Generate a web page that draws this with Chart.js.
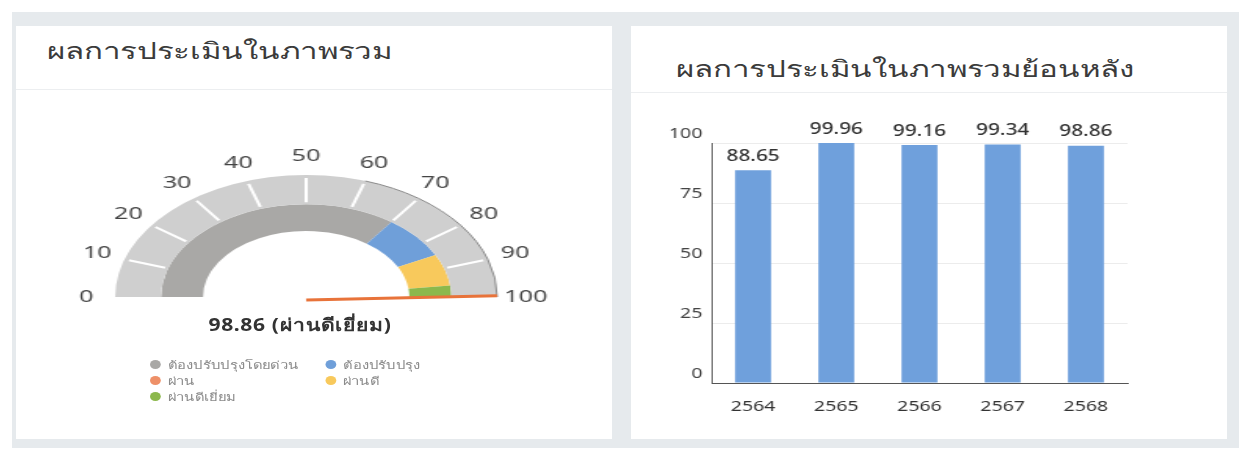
<!DOCTYPE html>
<html lang="th">
<head>
    <meta charset="UTF-8">
    <title>ผลการประเมินในภาพรวม</title>
    <style>
        body { margin: 0; width: 1239px; height: 456px; background: #fff; position: relative; overflow: hidden; font-family: "Noto Sans", sans-serif; }
        .backdrop { position: absolute; left: 12px; top: 12px; width: 1227px; height: 436px; background: #e6eaed; }
        .card { position: absolute; top: 26px; height: 413px; background: #fff; }
        .card.left { left: 16px; width: 596px; }
        .card.right { left: 631px; width: 596px; }
        .card h2 { position: absolute; margin: 0; font-weight: 400; font-size: 23px; line-height: 30px; color: #3b3b3b; white-space: nowrap; transform-origin: 0 50%; transform: scaleX(1.36); }
        .card .sep { position: absolute; left: 0; right: 0; height: 1px; background: #eceef0; }
        .stretch { position: absolute; transform-origin: 0 0; }
        #gauge-wrap { left: 40px; top: 137px; transform: scaleX(1.5656); }
        #bar-wrap { left: 640px; top: 112px; transform: scaleX(1.3); }
        .status { position: absolute; left: 180px; width: 240px; top: 311px; text-align: center; font-weight: 700; font-size: 17px; color: #333; letter-spacing: 0.5px; transform: scaleX(1.24); }
        .legend { position: absolute; left: 150px; top: 357px; display: grid; grid-template-columns: 130px 100px; row-gap: 1px; font-size: 11px; color: #8a8a8a; transform-origin: 0 0; transform: scaleX(1.35); }
        .legend span { display: flex; align-items: center; height: 15px; }
        .legend i { width: 8px; height: 9px; border-radius: 50%; margin-right: 5px; display: inline-block; }
    </style>
</head>
<body>
    <div class="backdrop"></div>
    <div class="card left">
        <h2 style="left:31px; top:9px;">ผลการประเมินในภาพรวม</h2>
        <div class="sep" style="top:63px;"></div>
    </div>
    <div class="card right">
        <h2 style="left:45px; top:27px;">ผลการประเมินในภาพรวมย้อนหลัง</h2>
        <div class="sep" style="top:66px;"></div>
    </div>

    <div class="stretch" id="gauge-wrap">
        <canvas id="gauge-chart" width="340" height="190"></canvas>
    </div>
    <div class="status" id="gauge-status"></div>
    <div class="legend" id="gauge-legend"></div>

    <div class="stretch" id="bar-wrap">
        <canvas id="history-chart" width="455" height="318"></canvas>
    </div>

    <script src="https://cdn.jsdelivr.net/npm/chart.js"></script>
    <script>
        const gaugeValue = 98.86;
        const gaugeStatus = 'ผ่านดีเยี่ยม';
        const gaugeMax = 100;
        const gaugeTicks = [0, 10, 20, 30, 40, 50, 60, 70, 80, 90, 100];
        const levelLabels = ['ต้องปรับปรุงโดยด่วน', 'ต้องปรับปรุง', 'ผ่าน', 'ผ่านดี', 'ผ่านดีเยี่ยม'];
        const levelColors = ['#a9a8a6', '#6f9fd9', '#ee9068', '#f8c95c', '#8cb84c'];
        const levelWidths = [70, 15, 0, 11, 4];
        const needleColor = '#e8733a';

        const years = ['2564', '2565', '2566', '2567', '2568'];
        const scores = [88.65, 99.96, 99.16, 99.34, 98.86];
        const yTicks = [0, 25, 50, 75, 100];

        const fontFamily = '"Noto Sans", sans-serif';

        document.getElementById('gauge-status').textContent = gaugeValue.toFixed(2) + ' (' + gaugeStatus + ')';
        const legend = document.getElementById('gauge-legend');
        levelLabels.forEach((label, i) => {
            const item = document.createElement('span');
            item.innerHTML = `<i style="background:${levelColors[i]}"></i>${label}`;
            legend.appendChild(item);
        });

        const gaugeDecor = {
            id: 'gaugeDecor',
            afterDatasetsDraw(chart) {
                const arc = chart.getDatasetMeta(0).data[0];
                const { x, y, innerRadius, outerRadius } = arc.getProps(['x', 'y', 'innerRadius', 'outerRadius'], true);
                const ctx = chart.ctx;
                const angle = v => Math.PI + v / gaugeMax * Math.PI;
                ctx.save();

                ctx.strokeStyle = '#fff';
                ctx.lineWidth = 2;
                gaugeTicks.forEach(v => {
                    if (v === 0 || v === gaugeMax) return;
                    const a = angle(v);
                    ctx.beginPath();
                    ctx.moveTo(x + Math.cos(a) * (innerRadius + 2), y + Math.sin(a) * (innerRadius + 2));
                    ctx.lineTo(x + Math.cos(a) * (outerRadius - 3), y + Math.sin(a) * (outerRadius - 3));
                    ctx.stroke();
                });

                // thin dark rim on the outer edge
                ctx.strokeStyle = '#8a8a8a';
                ctx.lineWidth = 1;
                ctx.beginPath();
                ctx.arc(x, y, outerRadius, angle(60), angle(gaugeMax));
                ctx.stroke();

                ctx.fillStyle = '#444';
                ctx.font = '16px ' + fontFamily;
                ctx.textAlign = 'center';
                ctx.textBaseline = 'middle';
                gaugeTicks.forEach(v => {
                    const a = angle(v);
                    const r = outerRadius * 1.15;
                    ctx.fillText(String(v), x + Math.cos(a) * r, y + Math.sin(a) * r);
                });

                const a = angle(gaugeValue);
                ctx.strokeStyle = needleColor;
                ctx.lineWidth = 3;
                ctx.beginPath();
                ctx.moveTo(x, y + 3);
                ctx.lineTo(x + Math.cos(a) * outerRadius, y + 3 + Math.sin(a) * outerRadius);
                ctx.stroke();
                ctx.restore();
            }
        };

        new Chart(document.getElementById('gauge-chart'), {
            type: 'doughnut',
            data: {
                labels: levelLabels,
                datasets: [
                    { data: [gaugeMax], backgroundColor: ['#cfcfcf'], borderWidth: 0, weight: 24 },
                    { data: levelWidths, backgroundColor: levelColors, borderWidth: 0, weight: 22 }
                ]
            },
            options: {
                responsive: false,
                animation: false,
                rotation: -90,
                circumference: 180,
                cutout: '54%',
                layout: { padding: { left: 48, right: 48, top: 38, bottom: 30 } },
                plugins: { legend: { display: false }, tooltip: { enabled: false } }
            },
            plugins: [gaugeDecor]
        });

        const valueLabels = {
            id: 'valueLabels',
            afterDatasetsDraw(chart) {
                const ctx = chart.ctx;
                ctx.save();
                ctx.font = '500 16px ' + fontFamily;
                ctx.fillStyle = '#333';
                ctx.textAlign = 'center';
                ctx.textBaseline = 'bottom';
                chart.getDatasetMeta(0).data.forEach((bar, i) => {
                    ctx.fillText(scores[i].toFixed(2), bar.x, bar.y - 6);
                });
                ctx.restore();
            }
        };

        new Chart(document.getElementById('history-chart'), {
            type: 'bar',
            data: {
                labels: years,
                datasets: [{
                    data: scores,
                    backgroundColor: '#6fa0dc',
                    categoryPercentage: 0.8,
                    barPercentage: 0.54
                }]
            },
            options: {
                responsive: false,
                animation: false,
                layout: { padding: { top: 31, right: 80, left: 0, bottom: 0 } },
                scales: {
                    x: {
                        grid: { display: false, drawTicks: false },
                        border: { color: '#555' },
                        ticks: { color: '#333', padding: 15, font: { family: fontFamily, size: 15 } },
                        afterFit: s => { s.height = 47; }
                    },
                    y: {
                        min: 0,
                        max: 100,
                        afterBuildTicks: s => { s.ticks = yTicks.map(v => ({ value: v })); },
                        grid: { color: '#ececec', drawTicks: false },
                        border: { color: '#555' },
                        ticks: { color: '#444', padding: 7, labelOffset: -9, font: { family: fontFamily, size: 15 } },
                        afterFit: s => { s.width = 55; }
                    }
                },
                plugins: { legend: { display: false }, tooltip: { enabled: false } }
            },
            plugins: [valueLabels]
        });
    </script>
</body>
</html>
